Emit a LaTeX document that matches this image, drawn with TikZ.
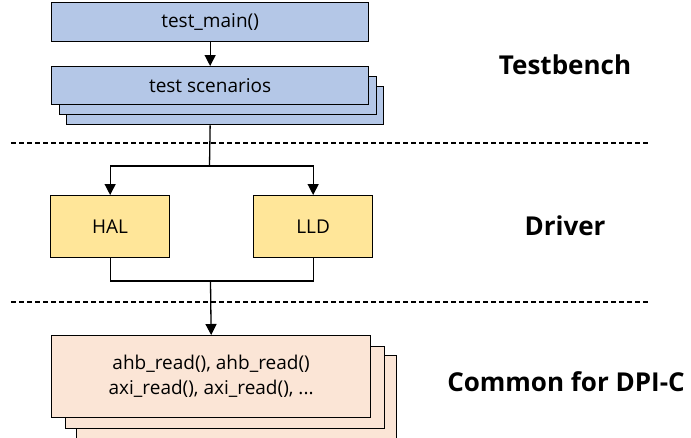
\documentclass[tikz,border=0pt]{standalone}
\usepackage{fontspec}
\setmainfont{Open Sans}
\usetikzlibrary{arrows.meta}
\definecolor{blueF}{HTML}{B4C7E7}
\definecolor{yellowF}{HTML}{FFE699}
\definecolor{peachF}{HTML}{FBE5D6}
\begin{document}
\begin{tikzpicture}[x=1pt,y=-1pt,
  box/.style={draw=black, line width=1.3pt, inner sep=0pt, anchor=north west,
    font=\fontsize{19}{25}\selectfont, align=center},
  arr/.style={line width=1.3pt, -{Triangle[length=11pt,width=11pt]}},
  conn/.style={line width=1.3pt},
  sep/.style={line width=1.2pt, dash pattern=on 5pt off 3pt},
  lbl/.style={font=\fontsize{26}{30}\selectfont\bfseries, inner sep=0pt}]
\useasboundingbox (0,0) rectangle (691,437);

% Testbench
\node[box, fill=blueF, minimum width=317pt, minimum height=39.5pt] (main) at (51,1.5) {test\_main()};
\node[box, fill=blueF, minimum width=317pt, minimum height=38pt] (sc3) at (66,86) {};
\node[box, fill=blueF, minimum width=317pt, minimum height=38pt] (sc2) at (59,76) {};
\node[box, fill=blueF, minimum width=317pt, minimum height=38pt] (sc1) at (51,66) {test scenarios};
\draw[arr] (main.south) -- (sc1.north);

% separators
\coordinate (d1a) at (11,143); \coordinate (d1b) at (650,143);
\coordinate (d2a) at (11,302); \coordinate (d2b) at (650,302);
\draw[sep] (d1a) -- (d1b);
\draw[sep] (d2a) -- (d2b);

% Driver
\node[box, fill=yellowF, minimum width=119pt, minimum height=62pt] (hal) at (50,195) {HAL};
\node[box, fill=yellowF, minimum width=119pt, minimum height=62pt] (lld) at (253,195) {LLD};
\coordinate (j1) at (209.5,166);
\draw[conn] (sc1.south |- sc3.south) -- (j1);
\draw[arr] (j1) -| (hal.north);
\draw[arr] (j1) -| (lld.north);

% Common
\node[box, fill=peachF, minimum width=320pt, minimum height=84pt] (cm3) at (76,355) {};
\node[box, fill=peachF, minimum width=319pt, minimum height=82pt] (cm2) at (65,346) {};
\node[box, fill=peachF, minimum width=319pt, minimum height=82pt] (cm1) at (51,335)
  {ahb\_read(), ahb\_read()\\axi\_read(), axi\_read(), ...};
\coordinate (j2) at (210.5,281);
\draw[conn] (hal.south) -- (hal.south |- j2) -- (lld.south |- j2) -- (lld.south);
\draw[arr] (j2) -- (cm1.north);

% labels
\node[lbl] (tb) at (565,65) {Testbench};
\node[lbl] (dr) at (565,226) {Driver};
\node[lbl] (cf) at (566,382) {Common for DPI-C};
\end{tikzpicture}
\end{document}
